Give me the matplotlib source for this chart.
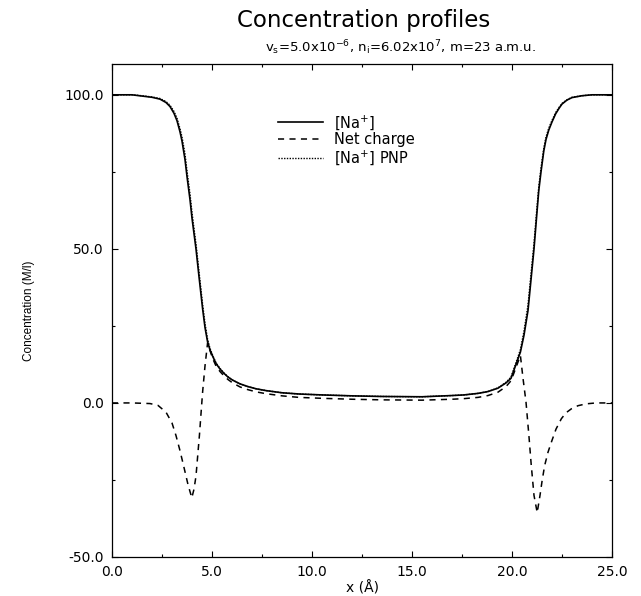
import matplotlib
matplotlib.use("Agg")
import matplotlib.pyplot as plt
from matplotlib.ticker import MultipleLocator, FormatStrFormatter

# ---- data ----
x_na = [0, 0.5, 1.0, 1.5, 2.0, 2.4, 2.7, 2.9, 3.1, 3.25, 3.4, 3.5, 3.65, 3.75, 3.9,
        4.0, 4.1, 4.2, 4.35, 4.53, 4.65, 4.78, 4.9, 5.03, 5.2, 5.4, 5.6, 5.8, 6.03,
        6.4, 6.8, 7.2, 7.7, 8.5, 9.35, 10.5, 12, 13.5, 15.5, 17, 17.6, 18.3, 18.8,
        19.3, 19.7, 19.95, 20.2, 20.42, 20.6, 20.8, 20.95, 21.1, 21.25, 21.34, 21.45,
        21.59, 21.7, 21.84, 22.0, 22.18, 22.35, 22.5, 22.75, 23.0, 23.5, 24, 25]
na_conc = [100, 100, 100, 99.6, 99.2, 98.6, 97.5, 96.2, 94.0, 91.6, 88.0, 85.0, 79.0,
           73.5, 66.0, 60.0, 55.0, 50.0, 41.0, 30.6, 24.5, 19.8, 17.2, 15.2, 12.8,
           11.0, 9.6, 8.4, 7.4, 6.2, 5.3, 4.6, 4.0, 3.3, 2.9, 2.6, 2.3, 2.1, 2.0, 2.4,
           2.6, 3.1, 3.7, 4.8, 6.5, 8.0, 12.5, 16.5, 22.0, 30.0, 40.0, 50.0, 62.0,
           69.0, 75.0, 81.8, 85.5, 88.6, 91.2, 93.8, 95.6, 97.0, 98.3, 99.1, 99.7,
           100, 100]
pnp_conc = [100, 100, 100, 99.7, 99.3, 98.8, 97.8, 96.6, 94.6, 92.4, 89.0, 86.3, 80.8,
            75.3, 67.8, 61.8, 56.6, 51.6, 42.6, 32.0, 25.8, 20.6, 17.7, 15.5, 13.0,
            11.2, 9.7, 8.5, 7.4, 6.2, 5.3, 4.6, 4.0, 3.3, 2.9, 2.6, 2.3, 2.1, 2.0, 2.4,
            2.6, 3.1, 3.7, 4.9, 6.7, 8.4, 13.1, 17.3, 23.3, 31.8, 41.8, 51.8, 63.6,
            70.3, 76.3, 82.7, 86.3, 89.2, 91.7, 94.2, 95.9, 97.2, 98.4, 99.2, 99.7,
            100, 100]

x_net = [0, 1.0, 1.9, 2.3, 2.7, 3.0, 3.2, 3.4, 3.62, 3.8, 3.99, 4.1, 4.2, 4.3, 4.37,
         4.45, 4.53, 4.65, 4.78, 4.9, 5.03, 5.2, 5.4, 5.6, 5.8, 6.03, 6.4, 6.8, 7.2,
         7.7, 8.5, 9.35, 10.5, 12, 13.5, 15.5, 17, 17.6, 18.3, 18.8, 19.3, 19.7,
         19.95, 20.2, 20.42, 20.55, 20.7, 20.85, 20.96, 21.1, 21.26, 21.4, 21.5,
         21.63, 21.8, 21.97, 22.2, 22.47, 22.7, 22.97, 23.3, 23.7, 24.2, 25]
net_charge = [0, 0, -0.2, -0.8, -3.0, -6.5, -10.6, -15.5, -21.5, -26.5, -30.8, -28.0,
              -23.7, -16.0, -10.6, -3.5, 3.5, 12.0, 19.5, 17.0, 14.5, 12.0, 10.2, 8.8,
              7.6, 6.5, 5.2, 4.3, 3.6, 3.0, 2.3, 1.8, 1.5, 1.2, 1.0, 0.9, 1.2, 1.4,
              1.8, 2.4, 3.5, 5.3, 7.2, 11.5, 15.4, 8.0, 0.3, -11.0, -20.0, -30.0,
              -35.6, -30.0, -25.5, -20.4, -16.0, -12.7, -8.5, -5.1, -3.2, -1.9, -0.9,
              -0.3, 0, 0]

labels = ['[Na$^{+}$]', 'Net charge', '[Na$^{+}$] PNP']
x_ticks = [0, 5, 10, 15, 20, 25]
y_ticks = [-50, 0, 50, 100]

plt.rcParams['font.family'] = ['DejaVu Sans']
plt.rcParams['mathtext.fontset'] = 'dejavusans'

fig = plt.figure(figsize=(6.41, 5.96), dpi=100)
ax = fig.add_axes([112/641, 1-557/596, 500/641, 493/596])

l1, = ax.plot(x_na, na_conc, color='black', lw=1.2, ls='-')
l2, = ax.plot(x_net, net_charge, color='black', lw=1.1, ls=(0, (4, 3.5)))
l3, = ax.plot(x_na, pnp_conc, color='black', lw=1.0, ls=(0, (1, 1)))

ax.set_xlim(0, 25)
ax.set_ylim(-50, 110)
ax.set_xticks(x_ticks)
ax.set_yticks(y_ticks)
ax.xaxis.set_minor_locator(MultipleLocator(2.5))
ax.yaxis.set_minor_locator(MultipleLocator(25))
ax.xaxis.set_major_formatter(FormatStrFormatter('%.1f'))
ax.yaxis.set_major_formatter(FormatStrFormatter('%.1f'))
ax.tick_params(which='both', direction='in', top=True, right=True, width=0.8,
               labelsize=10)
ax.tick_params(which='major', length=4, pad=6)
ax.tick_params(which='minor', length=2)
for s in ax.spines.values():
    s.set_linewidth(0.9)

ax.set_xlabel('x (Å)', fontsize=10, labelpad=1)
ax.set_ylabel('Concentration (M/l)', fontsize=8.5,
              family=['Liberation Sans Narrow', 'Liberation Sans'], labelpad=21)

fig.text(364/641, 1-21/596, 'Concentration profiles', ha='center', va='center',
         fontsize=16.5)
fig.text(400/641, 1-48/596,
         r'v$_{\rm s}$=5.0x10$^{-6}$, n$_{\rm i}$=6.02x10$^{7}$, m=23 a.m.u.',
         ha='center', va='center', fontsize=9.5)

ax.legend([l1, l2, l3], labels, loc='upper left',
          bbox_to_anchor=((278-112)/500, (557-113)/493), frameon=False,
          fontsize=10.5, handlelength=3.1, handletextpad=0.75, labelspacing=0.05,
          borderpad=0, borderaxespad=0)

fig.savefig('out.png', dpi=100)
